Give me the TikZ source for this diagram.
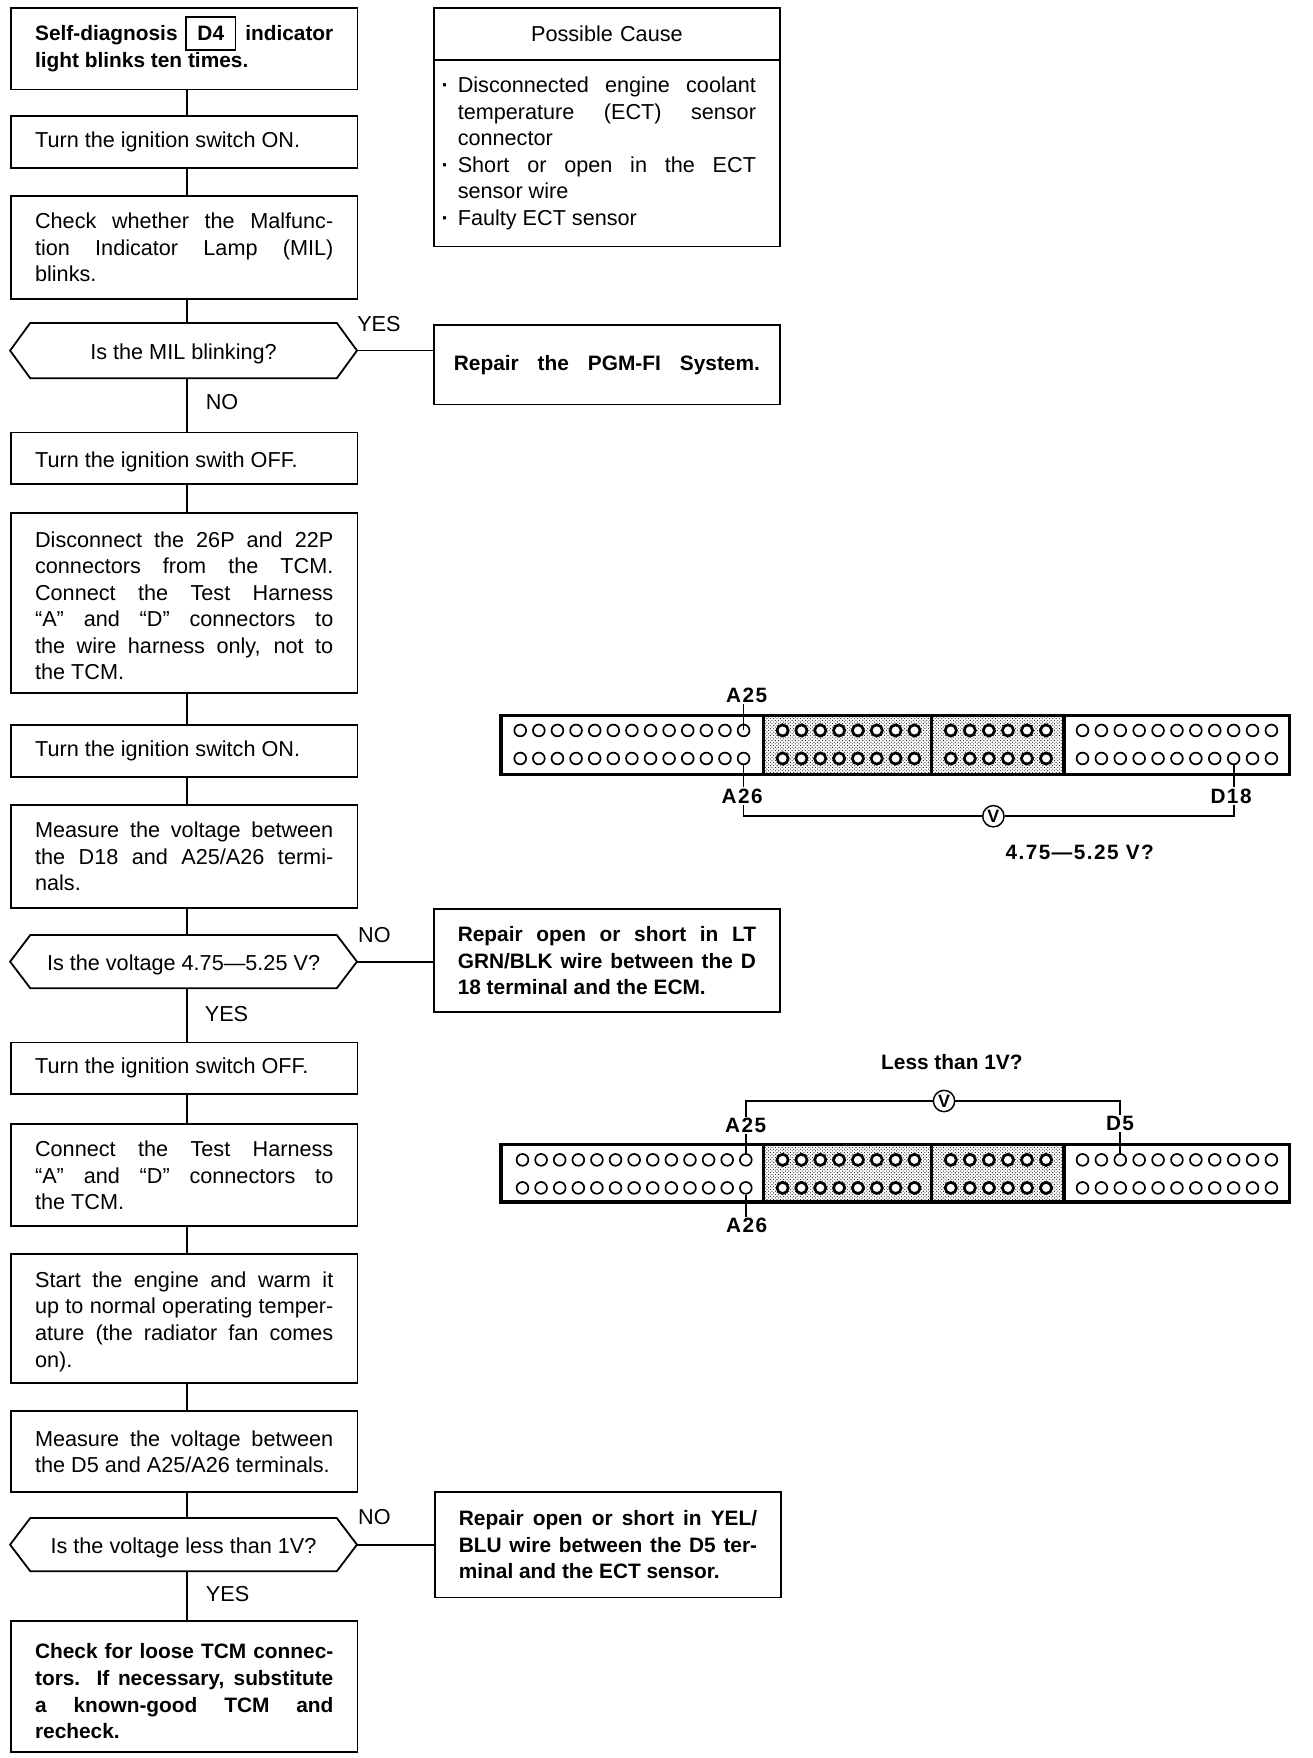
\documentclass[tikz,border=0pt]{standalone}
\usepackage{fontspec}
\setmainfont{Liberation Sans}
\newfontfamily\spacedbold[LetterSpace=7]{Liberation Sans Bold}
\usetikzlibrary{calc,patterns}
\tikzset{
  x=1pt,y=-1pt,
  txt/.style={font=\fontsize{19.3}{23.7}\selectfont},
  btxt/.style={font=\fontsize{18.6}{23.7}\selectfont\bfseries},
  lab/.style={font=\fontsize{18.5}{22}\spacedbold,inner sep=1pt,fill=white},
  lline/.style={line width=1.6pt},
  flowbox/.style={draw,lline,rectangle,inner sep=0pt,anchor=north west,minimum width=309pt,text width=266pt,align=justify,txt},
  hexnode/.style={inner sep=0pt,minimum width=309pt,anchor=north west,txt},
  tag/.style={inner sep=0pt,txt},
  pin/.style={circle,draw,fill=white,line width=1.5pt,minimum size=10.5pt,inner sep=0pt},
  pinD/.style={circle,draw,fill=white,line width=2.4pt,minimum size=10pt,inner sep=0pt},
  meter/.style={circle,draw,fill=white,line width=1.3pt,minimum size=19pt,inner sep=0pt,font=\fontsize{16}{16}\selectfont\bfseries},
}
\newcommand{\lift}[1]{\rule{0pt}{#1pt}}
\newcommand{\hexa}[1]{\draw[lline] (#1.west) -- ($(#1.north west)+(18,0)$) -- ($(#1.north east)+(-18,0)$) -- (#1.east) -- ($(#1.south east)+(-18,0)$) -- ($(#1.south west)+(18,0)$) -- cycle;}
\newcommand{\panel}[3]{%
  \fill[white] (447,#2) rectangle (1150,#3);
  \fill[pattern=crosshatch dots,pattern color=black] (681,#2) rectangle (949,#3);
  \draw[line width=3pt] (447,#2) rectangle (1150,#3);
  \draw[line width=3pt] (681,#2) -- (681,#3) (831,#2) -- (831,#3) (949,#2) -- (949,#3);
  \pgfmathsetmacro{\rowA}{#2+13.5}
  \pgfmathsetmacro{\rowB}{#2+38.5}
  \foreach \i in {0,...,12}{
    \pgfmathsetmacro{\px}{464+\i*16.6+(#1)}
    \node[pin] (#1Lt\i) at (\px,\rowA) {};
    \node[pin] (#1Lb\i) at (\px,\rowB) {};}
  \foreach \i in {0,...,7}{
    \pgfmathsetmacro{\px}{698+\i*16.8}
    \node[pinD] (#1Mt\i) at (\px,\rowA) {};
    \node[pinD] (#1Mb\i) at (\px,\rowB) {};}
  \foreach \i in {0,...,5}{
    \pgfmathsetmacro{\px}{848+\i*17}
    \node[pinD] (#1Nt\i) at (\px,\rowA) {};
    \node[pinD] (#1Nb\i) at (\px,\rowB) {};}
  \foreach \i in {0,...,10}{
    \pgfmathsetmacro{\px}{965.5+\i*16.85}
    \node[pin] (#1Rt\i) at (\px,\rowA) {};
    \node[pin] (#1Rb\i) at (\px,\rowB) {};}
}
\begin{document}
\begin{tikzpicture}
\useasboundingbox (0,0) rectangle (1170.3,1568);
\fill[white] (0,0) rectangle (1170.3,1568);
\coordinate (cx) at (167,0);
% left column
\node[flowbox,btxt,minimum height=73pt] (b1) at (9,6) {Self-diagnosis\hfill indicator\linebreak light blinks ten times.};
\node[draw,lline,inner sep=0pt,minimum width=44pt,minimum height=29.5pt,btxt] (d4) at (188,30) {D4};
\node[flowbox,minimum height=46pt] (b2) at (9,103) {Turn the ignition switch ON.};
\node[flowbox,minimum height=92pt] (b3) at (9,174) {Check whether the Malfunc-\linebreak tion Indicator Lamp (MIL)\linebreak blinks.};
\node[hexnode,minimum height=49pt] (d1) at (9,288) {\lift{20}Is the MIL blinking?};
\hexa{d1}
\node[flowbox,minimum height=46pt] (b4) at (9,385) {\lift{20}Turn the ignition swith OFF.};
\node[flowbox,minimum height=160pt] (b5) at (9,457) {\lift{19}Disconnect the 26P and 22P\linebreak connectors from the TCM.\linebreak Connect the Test Harness\linebreak “A” and “D” connectors to\linebreak the wire harness only, not to\linebreak the TCM.};
\node[flowbox,minimum height=46pt] (b6) at (9,646) {Turn the ignition switch ON.};
\node[flowbox,minimum height=92pt] (b7) at (9,717) {Measure the voltage between\linebreak the D18 and A25/A26 termi-\linebreak nals.};
\node[hexnode,minimum height=47pt] (d2) at (9,834) {\lift{19}Is the voltage 4.75—5.25 V?};
\hexa{d2}
\node[flowbox,minimum height=46pt] (b8) at (9,929) {Turn the ignition switch OFF.};
\node[flowbox,minimum height=91pt] (b9) at (9,1002) {Connect the Test Harness\linebreak “A” and “D” connectors to\linebreak the TCM.};
\node[flowbox,minimum height=115pt] (b10) at (9,1118) {\lift{19}Start the engine and warm it\linebreak up to normal operating temper-\linebreak ature (the radiator fan comes\linebreak on).};
\node[flowbox,minimum height=72pt] (b11) at (9,1258) {Measure the voltage between\linebreak the D5 and A25/A26 terminals.};
\node[hexnode,minimum height=47pt] (d3) at (9,1354) {\lift{19}Is the voltage less than 1V?};
\hexa{d3}
\node[flowbox,btxt,minimum height=117pt] (b12) at (9,1445) {\lift{22}Check for loose TCM connec-\linebreak tors. If necessary, substitute\linebreak a known-good TCM and\linebreak recheck.};
% vertical connectors
\foreach \a/\b in {b1/b2,b2/b3,b3/d1,d1/b4,b4/b5,b5/b6,b6/b7,b7/d2,d2/b8,b8/b9,b9/b10,b10/b11,b11/d3,d3/b12}
  \draw[lline] (\a.south -| cx) -- (\b.north -| cx);
% right column
\node[flowbox,minimum height=47pt,align=center] (pc) at (386,6) {Possible Cause};
\node[flowbox,minimum height=166pt] (pcb) at (386,53) {\llap{\textbf{·}\hspace{8pt}}Disconnected engine coolant\linebreak temperature (ECT) sensor\linebreak connector\newline \llap{\textbf{·}\hspace{8pt}}Short or open in the ECT\linebreak sensor wire\newline \llap{\textbf{·}\hspace{8pt}}Faulty ECT sensor};
\node[flowbox,btxt,minimum height=71pt,align=center] (r1) at (386,289) {\makebox[266pt][c]{\hbox to 273pt{Repair\hfill the\hfill PGM-FI\hfill System.}}};
\node[flowbox,btxt,minimum height=92pt] (r2) at (386,810) {Repair open or short in LT\linebreak GRN/BLK wire between the D\linebreak 18 terminal and the ECM.};
\node[flowbox,btxt,minimum height=94pt] (r3) at (387,1330) {Repair open or short in YEL/\linebreak BLU wire between the D5 ter-\linebreak minal and the ECT sensor.};
\foreach \a/\b in {d1/r1,d2/r2,d3/r3}
  \draw[lline] (\a.east) -- (\a.east -| \b.west);
% branch labels
\node[tag] (y1) at (338,289) {YES};
\node[tag] (n1) at (198,359) {NO};
\node[tag] (n2) at (334,834) {NO};
\node[tag] (y2) at (202,904) {YES};
\node[tag] (n3) at (334,1353) {NO};
\node[tag] (y3) at (203,1422) {YES};
% first connector
\panel{0}{638}{691}
\node[lab] (a25) at (666,620) {A25};
\node[lab] (a26) at (662,710) {A26};
\node[lab] (d18) at (1098,710) {D18};
\node[meter] (v1) at (886,728) {V};
\coordinate (c1) at (0Lb12 |- v1);
\coordinate (c2) at (0Rb8 |- v1);
\draw[lline] (0Lt12.center) -- (0Lt12 |- a25.south);
\draw[lline] (0Lb12.south) -- (0Lb12 |- a26.north);
\draw[lline] (0Lb12 |- a26.south) -- (c1) -- (v1);
\draw[lline] (v1) -- (c2) -- (0Rb8 |- d18.south);
\draw[lline] (0Rb8.south) -- (0Rb8 |- d18.north);
\node[lab] (q1) at (963,760) {4.75—5.25 V?};
% second connector
\node[btxt,inner sep=0pt] (q2) at (849,947) {Less than 1V?};
\panel{2}{1021}{1072}
\node[lab] (a25b) at (665,1004) {A25};
\node[lab] (d5) at (999,1002) {D5};
\node[lab] (a26b) at (666,1093) {A26};
\node[meter] (v2) at (842,982) {V};
\coordinate (c3) at (2Lt12 |- v2);
\coordinate (c4) at (2Rt2 |- v2);
\draw[lline] (2Lt12.north) -- (2Lt12 |- a25b.south);
\draw[lline] (2Lt12 |- a25b.north) -- (c3) -- (v2);
\draw[lline] (v2) -- (c4) -- (2Rt2 |- d5.north);
\draw[lline] (2Rt2.north) -- (2Rt2 |- d5.south);
\draw[lline] (2Lb12.south) -- (2Lb12 |- a26b.north);
\end{tikzpicture}
\end{document}
